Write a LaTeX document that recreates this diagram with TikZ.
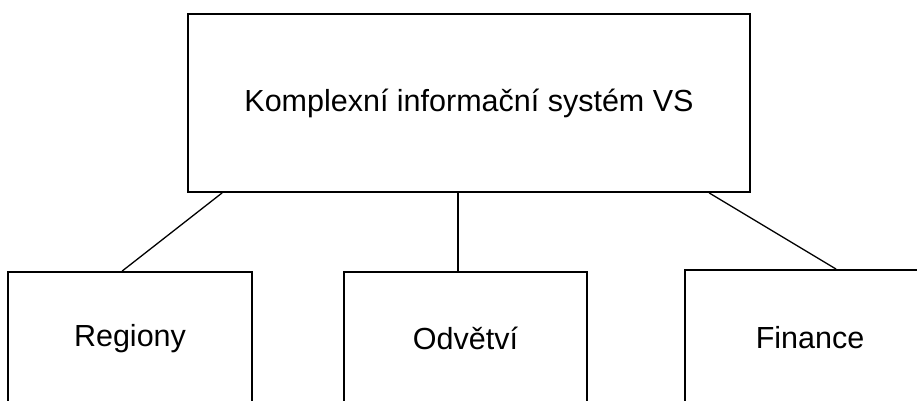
\documentclass[tikz,border=0pt]{standalone}
\usepackage{fontspec}
\setmainfont{Liberation Sans}
\begin{document}
\begin{tikzpicture}[x=1pt,y=-1pt,
  box/.style={draw=black,line width=1.8pt,fill=white,inner sep=0pt,
    font=\fontsize{30.5}{36}\selectfont},
  link/.style={draw=black,line width=1.3pt}]
  \clip (0,0) rectangle (917,400);
  \useasboundingbox (0,0) rectangle (917,400);
  % root system and its three parts
  \node[box,minimum width=562pt,minimum height=178pt] (root) at (469,103) {Komplexní informační systém VS};
  \node[box,minimum width=244pt,minimum height=133pt] (reg) at (130,338.5) {Regiony};
  \node[box,minimum width=243pt,minimum height=133pt] (odv) at (465.5,338.5) {Odvětví};
  \node[box,minimum width=250pt,minimum height=135pt] (fin) at (810,337.5) {Finance};
  % links from the root to the parts
  \draw[link] ([xshift=35pt]root.south west) -- ([xshift=115pt]reg.north west);
  \draw[link] ([xshift=271pt]root.south west) -- ([xshift=115pt]odv.north west);
  \draw[link] ([xshift=522pt]root.south west) -- ([xshift=152pt]fin.north west);
\end{tikzpicture}
\end{document}
